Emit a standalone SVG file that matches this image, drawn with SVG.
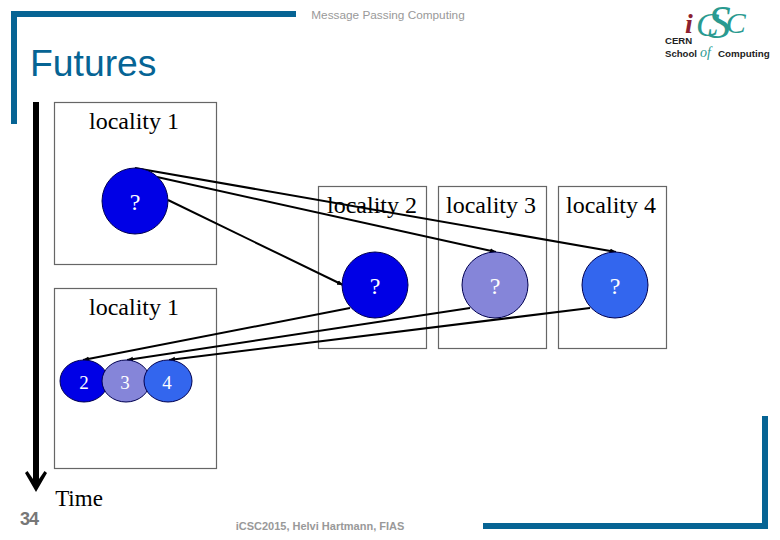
<svg xmlns="http://www.w3.org/2000/svg" width="780" height="540" viewBox="0 0 780 540">
<style>
.frame{fill:#066494}
.box{fill:#fff;stroke:#666;stroke-width:1.2}
.t{font-family:"Liberation Serif","Times New Roman",serif;font-size:24px;fill:#000;text-anchor:middle}
.w{font-family:"Liberation Serif","Times New Roman",serif;font-size:24px;fill:#fff;text-anchor:middle}
.d{font-size:19px}
.n{stroke:#000050;stroke-width:1}
.c{fill:none;stroke:#000;stroke-width:2;marker-end:url(#a)}
.g{font-family:"Liberation Sans",Arial,sans-serif;fill:#999}
.sw{font-family:"Liberation Serif",serif;fill:#2a9a90;font-style:italic}
.lg{font-family:"Liberation Sans",Arial,sans-serif;font-weight:bold;font-size:9.6px;fill:#222}
</style>
<defs>
<marker id="a" markerUnits="userSpaceOnUse" markerWidth="7" markerHeight="6" refX="6" refY="3" orient="auto"><path d="M0 .5L6 3L0 5.500Z" fill="#000"/></marker>
</defs>
<rect width="780" height="540" fill="#fff"/>
<g id="frame">
<rect class="frame" x="12" y="11" width="284" height="6"/>
<rect class="frame" x="11" y="11" width="6" height="113"/>
<rect class="frame" x="483" y="523" width="284" height="6"/>
<rect class="frame" x="762" y="416" width="6" height="113"/>
</g>
<text x="388" y="19" text-anchor="middle" class="g" font-size="11.800">Message Passing Computing</text>
<text x="30" y="76" font-family="Liberation Sans,Arial,sans-serif" font-size="37.300" fill="#066494">Futures</text>
<g id="logo">
<text x="685" y="33" font-family="Liberation Serif,serif" font-style="italic" font-weight="bold" font-size="28" fill="#8c2030">i</text>
<text class="sw" x="696" y="36"><tspan font-size="34">C</tspan><tspan font-size="46" dx="-11" dy="2">S</tspan><tspan font-size="30" dx="-5" dy="-5">C</tspan></text>
<text class="lg" x="665" y="43.500">CERN</text>
<text class="lg" x="665" y="56.500">School</text>
<text x="700" y="57" font-family="Liberation Serif,serif" font-style="italic" font-size="14" fill="#2a9a90">of</text>
<text class="lg" x="718" y="56.500" style="font-size:9.800px">Computing</text>
</g>
<g id="time-arrow">
<rect x="33" y="102" width="6" height="378" fill="#000"/>
<path d="M25 473L27.500 471L33 479H39L44.500 471L47 473L36 492Z" fill="#000"/>
<text class="t" x="79" y="506" style="font-size:23px">Time</text>
</g>
<g id="locality-1a"><rect class="box" x="54.500" y="102.500" width="162" height="162"/><text class="t" x="134" y="129">locality 1</text></g>
<g id="locality-1b"><rect class="box" x="54.500" y="288.500" width="162" height="180"/><text class="t" x="134" y="315">locality 1</text></g>
<g id="locality-2"><rect class="box" x="318.500" y="186.500" width="108" height="162"/><text class="t" x="372" y="213">locality 2</text></g>
<g id="locality-3"><rect class="box" x="438.500" y="186.500" width="108" height="162"/><text class="t" x="491" y="213">locality 3</text></g>
<g id="locality-4"><rect class="box" x="558.500" y="186.500" width="108" height="162"/><text class="t" x="611" y="213">locality 4</text></g>
<g id="connectors">
<path class="c" d="M135 168L616 252"/>
<path class="c" d="M157 177L496 252"/>
<path class="c" d="M168 200L343 285"/>
<path class="c" d="M350 308L83 360"/>
<path class="c" d="M470 308L127 360"/>
<path class="c" d="M590 308L169 360"/>
</g>
<g id="node-q1"><circle class="n" cx="135" cy="201" r="33" fill="#0000e6"/><text class="w" x="135" y="210">?</text></g>
<g id="node-q2"><circle class="n" cx="375" cy="285" r="33" fill="#0000e6"/><text class="w" x="375" y="294">?</text></g>
<g id="node-q3"><circle class="n" cx="495" cy="285" r="33" fill="#8585d9"/><text class="w" x="495" y="294">?</text></g>
<g id="node-q4"><circle class="n" cx="615" cy="285" r="33" fill="#3366ee"/><text class="w" x="615" y="294">?</text></g>
<g id="node-2"><ellipse class="n" cx="84" cy="381" rx="24" ry="21" fill="#0000e6"/><text class="w d" x="84" y="389">2</text></g>
<g id="node-3"><ellipse class="n" cx="126" cy="381" rx="24" ry="21" fill="#8585d9"/><text class="w d" x="125" y="389">3</text></g>
<g id="node-4"><ellipse class="n" cx="168" cy="381" rx="24" ry="21" fill="#3366ee"/><text class="w d" x="167" y="389">4</text></g>
<text x="20" y="525" font-family="Liberation Sans,Arial,sans-serif" font-size="18" font-weight="bold" fill="#777" letter-spacing="-1">34</text>
<text x="320" y="530" text-anchor="middle" class="g" font-size="11" font-weight="bold">iCSC2015, Helvi Hartmann, FIAS</text>
</svg>
